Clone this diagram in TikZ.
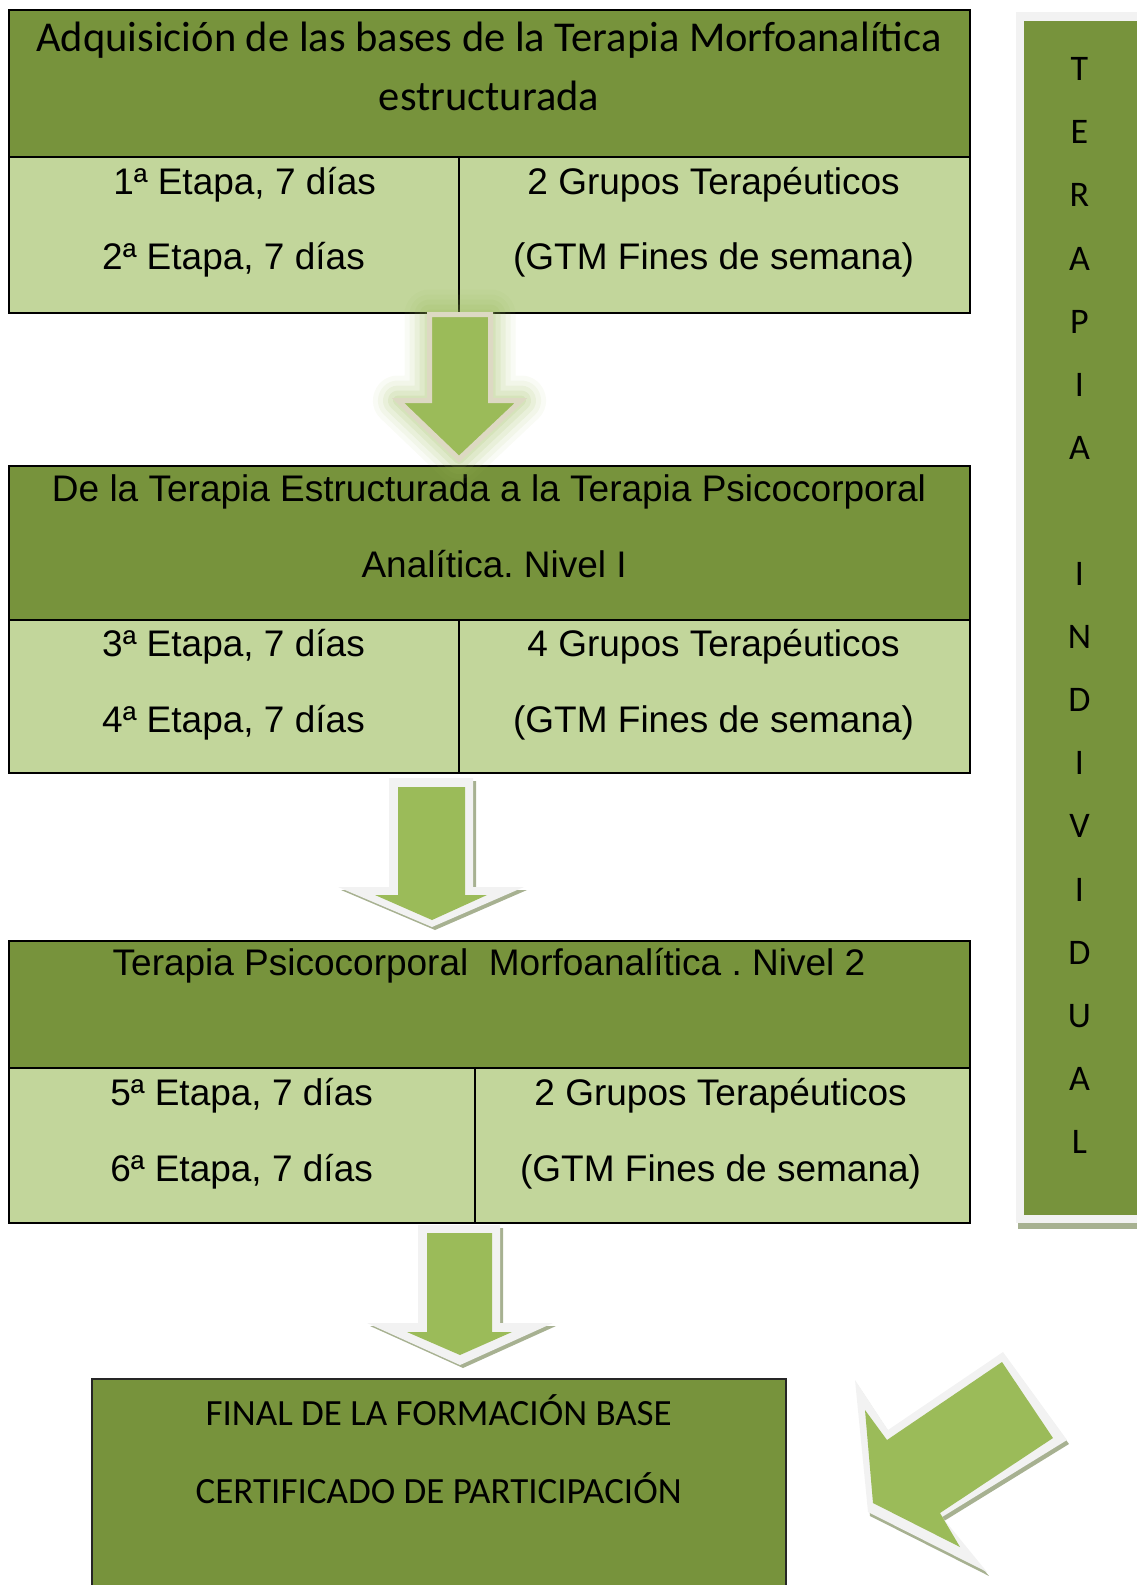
\documentclass[tikz,border=0pt]{standalone}
\usepackage{fontspec}
\setmainfont{Liberation Sans}
\newfontfamily\calibrifont{Carlito}
\frenchspacing
\definecolor{Olive}{HTML}{77933C}
\definecolor{Sage}{HTML}{C2D69B}
\definecolor{Leaf}{HTML}{9BBB59}
\definecolor{Mist}{HTML}{F2F2F2}
\definecolor{Shade}{HTML}{A7B191}
\definecolor{Sand}{HTML}{DDD9C3}
\newcommand\arrowone{(429.5,314.5) -- (490.5,314.5) -- (490.5,400.5) -- (521,400.5)
  -- (459,459) -- (398,400.5) -- (429.5,400.5) -- cycle}
\newcommand\arrowtwo{(389,778) -- (473,778) -- (473,887) -- (524,887)
  -- (432,927) -- (338,887) -- (389,887) -- cycle}
\newcommand\arrowthree{(418,1225) -- (500,1225) -- (500,1323) -- (553,1323)
  -- (460,1365) -- (367,1323) -- (418,1323) -- cycle}
\newcommand\arrowfour{(855,1380) -- (888,1430) -- (1003,1352) -- (1067,1440)
  -- (942,1517) -- (987,1572) -- (868,1512) -- cycle}
\begin{document}
\begin{tikzpicture}[
  x=1pt,y=-1pt,
  headbox/.style={draw=black,fill=Olive,line width=2.2pt,inner sep=0pt,outer sep=0pt,anchor=north west},
  cellbox/.style={draw=black,fill=Sage,line width=2.2pt,inner sep=0pt,outer sep=0pt,anchor=north west},
  panel/.style={inner sep=0pt,outer sep=0pt,anchor=north west},
  ltext/.style={font=\fontsize{37}{44}\selectfont,anchor=base,inner sep=0pt},
  ctext/.style={font=\calibrifont\fontsize{37}{44}\selectfont,anchor=base,inner sep=0pt},
  arrowrim/.style={fill=Mist},
  arrowbody/.style={fill=Leaf},
  arrowdrop/.style={fill=Shade}
]
\useasboundingbox (0,0) rectangle (1137,1585);
\clip (0,0) rectangle (1137,1585);
% stage 1
\node[headbox,minimum width=961pt,minimum height=147pt] (h1) at (9,10) {};
\node[cellbox,minimum width=450pt,minimum height=156pt] (c1a) at (h1.south west) {};
\node[cellbox,minimum width=511pt,minimum height=156pt] (c1b) at (c1a.north east) {};
\node[ctext,font=\calibrifont\fontsize{42.5}{50}\selectfont] (t1a) at (489,51.7) {Adquisición de las bases de la Terapia Morfoanalítica};
\node[ctext,font=\calibrifont\fontsize{42.5}{50}\selectfont] (t1b) at (489,110) {estructurada};
\node[ltext] (e1a) at (244.6,194) {1ª Etapa, 7 días};
\node[ltext] (e1b) at (233.5,269) {2ª Etapa, 7 días};
\node[ltext] (g1a) at (713.6,194) {2 Grupos Terapéuticos};
\node[ltext] (g1b) at (713.6,269) {(GTM Fines de semana)};
% stage 2
\node[headbox,minimum width=961pt,minimum height=154pt] (h2) at (9,466) {};
\node[cellbox,minimum width=450pt,minimum height=153pt] (c2a) at (h2.south west) {};
\node[cellbox,minimum width=511pt,minimum height=153pt] (c2b) at (c2a.north east) {};
\node[ltext] (t2a) at (489,501) {De la Terapia Estructurada a la Terapia Psicocorporal};
\node[ltext] (t2b) at (494.2,577) {Analítica. Nivel I};
\node[ltext] (e2a) at (233.5,656) {3ª Etapa, 7 días};
\node[ltext] (e2b) at (233.5,732) {4ª Etapa, 7 días};
\node[ltext] (g2a) at (713.6,656) {4 Grupos Terapéuticos};
\node[ltext] (g2b) at (713.6,732) {(GTM Fines de semana)};
% stage 3
\node[headbox,minimum width=961pt,minimum height=127pt] (h3) at (9,941) {};
\node[cellbox,minimum width=466pt,minimum height=155pt] (c3a) at (h3.south west) {};
\node[cellbox,minimum width=495pt,minimum height=155pt] (c3b) at (c3a.north east) {};
\node[ltext] (t3a) at (489,975) {Terapia Psicocorporal~ Morfoanalítica . Nivel 2};
\node[ltext] (e3a) at (241.6,1105) {5ª Etapa, 7 días};
\node[ltext] (e3b) at (241.6,1181) {6ª Etapa, 7 días};
\node[ltext] (g3a) at (720.6,1105) {2 Grupos Terapéuticos};
\node[ltext] (g3b) at (720.6,1181) {(GTM Fines de semana)};
% final box runs past the lower page edge
\node[panel,draw=black!85,fill=Olive,line width=1.3pt,minimum width=694pt,minimum height=260pt] (final) at (92,1379) {};
\node[ctext] (f1) at (438.7,1425) {FINAL DE LA FORMACIÓN BASE};
\node[ctext] (f2) at (438.7,1503) {CERTIFICADO DE PARTICIPACIÓN};
% side column: drop shadow, light frame, then the green band
\node[panel,fill=Shade,minimum width=130pt,minimum height=1211pt] (sidedrop) at (1018,18) {};
\node[panel,fill=Mist,minimum width=130pt,minimum height=1211pt] (sideframe) at (1016,12) {};
\node[panel,fill=Olive,minimum width=122pt,minimum height=1194pt] (side) at (1024,21) {};
\node[ctext,font=\calibrifont\fontsize{36}{63.1}\selectfont,align=center,anchor=north] (sidetext) at (1079.5,57.4)
  {T\\E\\R\\A\\P\\I\\A\\\mbox{}\\I\\N\\D\\I\\V\\I\\D\\U\\A\\L};
% block arrows
\foreach \w/\o in {50/.06,40/.08,30/.1,20/.12,10/.14}
  \draw[Leaf,line width=\w pt,opacity=\o,line join=round] \arrowone;
\draw[fill=Leaf,draw=Sand,line width=5pt] \arrowone;
\fill[arrowdrop,shift={(3,3)}] \arrowtwo;
\fill[arrowrim] \arrowtwo;
\fill[arrowbody] (398,787) -- (465,787) -- (465,895) -- (487,895) -- (432,920) -- (375,895) -- (398,895) -- cycle;
\fill[arrowdrop,shift={(3,3)}] \arrowthree;
\fill[arrowrim] \arrowthree;
\fill[arrowbody] (427,1233) -- (492,1233) -- (492,1332) -- (512,1332) -- (460,1355) -- (407,1332) -- (427,1332) -- cycle;
\fill[arrowdrop,shift={(2,4)}] \arrowfour;
\fill[arrowrim] \arrowfour;
\fill[arrowbody] (865,1410) -- (887,1440) -- (1002,1362) -- (1053,1438) -- (940,1513) -- (960,1547) -- (873,1503) -- cycle;
\end{tikzpicture}
\end{document}
